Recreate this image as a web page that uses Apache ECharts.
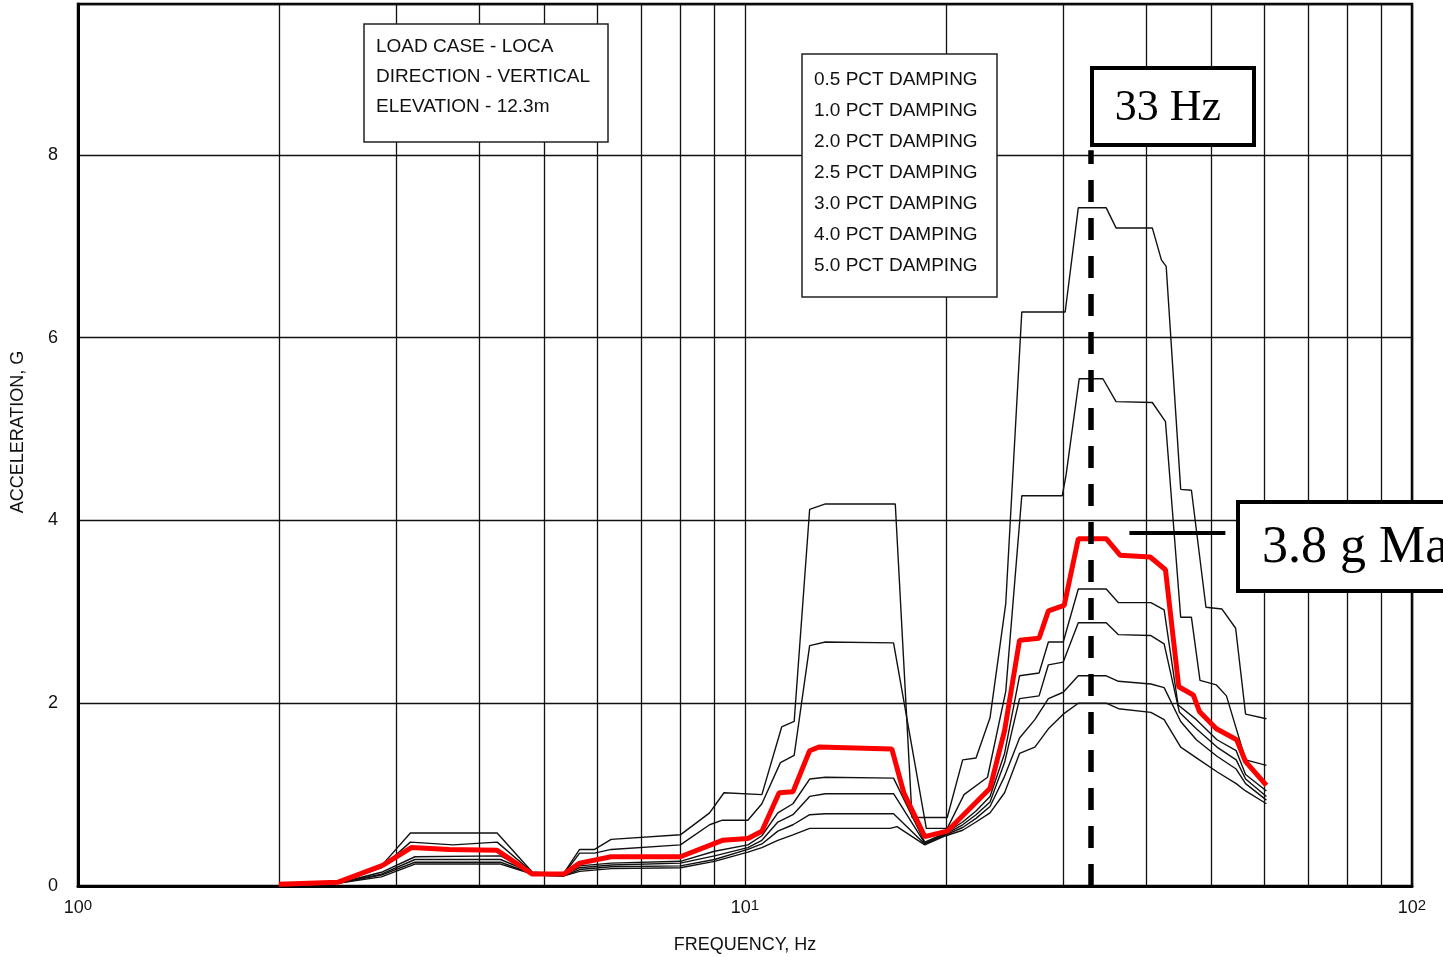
<!DOCTYPE html>
<html>
<head>
<meta charset="utf-8">
<title>Floor Response Spectra - LOCA Vertical</title>
<script src="https://cdn.jsdelivr.net/npm/echarts@6/dist/echarts.min.js"></script>
<style>
  html, body { margin: 0; padding: 0; background: #fff; }
  #chart { width: 1443px; height: 957px; }
</style>
</head>
<body>
<div id="chart"></div>
<script>
// Response spectra, [frequency Hz, acceleration g], one array per damping level
const damping05 = [[2.0,0.0],[2.45,0.03],[2.85,0.22],[3.15,0.58],[4.25,0.58],[4.8,0.15],[5.35,0.14],[5.65,0.40],[5.95,0.40],[6.3,0.51],[8.0,0.56],[8.85,0.80],[9.3,1.02],[10.6,1.0],[11.35,1.74],[11.85,1.80],[12.5,4.12],[13.2,4.18],[16.8,4.18],[17.8,0.75],[20.1,0.75],[21.2,1.38],[22.2,1.40],[23.3,1.84],[24.6,3.09],[26.0,6.28],[30.2,6.28],[31.6,7.42],[34.8,7.42],[36.0,7.2],[40.8,7.2],[42.1,6.85],[42.8,6.78],[45.0,4.34],[46.7,4.33],[49.1,3.05],[51.9,3.03],[54.4,2.82],[56.3,1.88],[60.5,1.83]];
const damping10 = [[2.0,0.0],[2.45,0.03],[2.85,0.2],[3.15,0.48],[3.65,0.45],[4.25,0.48],[4.8,0.15],[5.35,0.13],[5.65,0.36],[5.95,0.36],[6.3,0.40],[8.0,0.45],[8.85,0.67],[9.25,0.72],[10.1,0.72],[10.6,0.9],[11.3,1.35],[11.85,1.43],[12.5,2.63],[13.2,2.67],[16.7,2.66],[18.7,0.63],[20.1,0.63],[21.3,1.0],[23.1,1.19],[24.6,2.13],[26.0,4.27],[29.9,4.27],[30.3,4.5],[31.7,5.55],[34.4,5.55],[36.0,5.3],[40.8,5.29],[42.7,5.08],[45.0,2.94],[46.7,2.94],[48.1,2.25],[50.9,2.2],[52.7,2.08],[56.3,1.38],[60.5,1.32]];
const damping20 = [[2.0,0.02],[2.45,0.04],[2.87,0.23],[3.16,0.42],[3.6,0.40],[4.25,0.39],[4.8,0.13],[5.35,0.13],[5.65,0.25],[6.3,0.32],[8.0,0.32],[9.25,0.5],[10.1,0.52],[10.6,0.6],[11.25,1.02],[11.8,1.03],[12.5,1.48],[12.9,1.52],[16.6,1.5],[17.3,1.02],[18.6,0.54],[20.1,0.6],[23.3,1.07],[24.5,1.70],[25.8,2.69],[27.6,2.71],[28.5,3.01],[30.1,3.07],[31.6,3.8],[34.8,3.8],[36.5,3.62],[40.5,3.60],[42.7,3.46],[44.7,2.18],[47.0,2.09],[48.0,1.91],[50.9,1.72],[54.6,1.60],[56.3,1.36],[60.5,1.1]];
const damping25 = [[2.0,0.0],[2.45,0.03],[2.85,0.15],[3.2,0.32],[4.3,0.33],[4.85,0.13],[5.35,0.12],[5.65,0.22],[6.3,0.25],[8.0,0.27],[9.0,0.38],[10.1,0.45],[10.6,0.55],[11.2,0.8],[11.8,0.9],[12.5,1.17],[13.2,1.19],[16.7,1.18],[18.6,0.48],[20.0,0.58],[21.2,0.70],[22.2,0.82],[23.3,0.98],[24.5,1.45],[25.8,2.30],[27.6,2.33],[28.5,2.67],[30.0,2.67],[31.6,3.25],[34.8,3.25],[36.3,3.10],[40.6,3.10],[42.5,3.02],[44.6,1.98],[47.5,1.82],[51.0,1.60],[54.5,1.48],[56.3,1.22],[60.5,1.04]];
const damping30 = [[2.0,0.0],[2.45,0.03],[2.85,0.13],[3.2,0.29],[4.3,0.29],[4.85,0.13],[5.35,0.12],[5.65,0.2],[6.3,0.23],[8.0,0.25],[9.0,0.33],[10.1,0.42],[10.6,0.5],[11.2,0.7],[11.8,0.78],[12.5,0.98],[13.2,1.01],[16.7,1.01],[18.6,0.47],[20.0,0.57],[21.2,0.67],[22.2,0.78],[23.3,0.92],[24.5,1.35],[25.8,2.05],[27.6,2.08],[28.5,2.42],[30.0,2.45],[31.6,2.88],[34.8,2.88],[36.3,2.75],[40.6,2.74],[42.5,2.65],[44.8,1.90],[47.5,1.72],[51.0,1.52],[54.5,1.38],[56.3,1.17],[60.5,0.98]];
const damping40 = [[2.0,0.0],[2.45,0.03],[2.85,0.12],[3.2,0.26],[4.3,0.26],[4.85,0.12],[5.35,0.11],[5.65,0.18],[6.3,0.21],[8.0,0.22],[9.0,0.29],[10.1,0.40],[10.6,0.46],[11.2,0.6],[11.8,0.67],[12.5,0.78],[13.2,0.79],[16.7,0.79],[18.6,0.46],[20.0,0.56],[21.2,0.64],[22.2,0.74],[23.3,0.87],[24.5,1.2],[25.8,1.62],[27.2,1.82],[28.5,2.05],[30.0,2.12],[31.6,2.30],[34.8,2.30],[36.3,2.24],[40.6,2.21],[42.5,2.17],[45.0,1.80],[47.5,1.60],[51.0,1.42],[54.5,1.28],[56.3,1.12],[60.5,0.94]];
const damping50 = [[2.0,0.0],[2.45,0.03],[2.85,0.1],[3.2,0.24],[4.3,0.24],[4.85,0.12],[5.35,0.11],[5.65,0.16],[6.3,0.19],[8.0,0.2],[9.0,0.27],[10.1,0.37],[10.6,0.42],[11.2,0.5],[11.8,0.56],[12.5,0.63],[13.2,0.63],[16.5,0.63],[16.9,0.65],[18.6,0.45],[20.0,0.55],[21.2,0.61],[22.2,0.70],[23.3,0.80],[24.5,1.02],[25.8,1.45],[27.2,1.52],[28.5,1.72],[30.0,1.88],[31.6,2.0],[34.8,2.0],[36.3,1.94],[40.6,1.90],[42.5,1.82],[45.0,1.52],[48.0,1.38],[51.0,1.25],[54.5,1.12],[56.3,1.04],[60.5,0.90]];

// Legend text and header text
const dampingLabels = ['0.5 PCT DAMPING','1.0 PCT DAMPING','2.0 PCT DAMPING','2.5 PCT DAMPING','3.0 PCT DAMPING','4.0 PCT DAMPING','5.0 PCT DAMPING'];
const headerLines = ['LOAD CASE - LOCA','DIRECTION - VERTICAL','ELEVATION - 12.3m'];

// Axis settings
const xMin = 1, xMax = 100;
const yMin = 0, yMax = 9.65, yStep = 2;
const minorFreqLines = [2,3,4,5,6,7,8,9,20,30,40,50,60,70,80,90];

// Highlighted peak annotations
const peakFreq = 33;          // Hz, dashed marker
const peakFreqTop = 8.05;     // g, top end of the dashed marker
const peakValue = 3.8;        // g, stated maximum
const pointerFrom = 37.7, pointerTo = 52.5;  // Hz span of the pointer bar

const chart = echarts.init(document.getElementById('chart'), null, { renderer: 'canvas' });

const blackCurve = (name, data) => ({
  name, type: 'line', data, symbol: 'none', smooth: false, z: 3,
  lineStyle: { color: '#111', width: 1.4 }, silent: true
});

const series = [
  Object.assign(blackCurve('5.0 PCT DAMPING', damping50), {
    markLine: {
      silent: true, symbol: 'none', z: 1, animation: false,
      label: { show: false },
      lineStyle: { color: '#111', width: 1.3, type: 'solid' },
      data: minorFreqLines.map(f => ({ xAxis: f }))
    }
  }),
  blackCurve('4.0 PCT DAMPING', damping40),
  blackCurve('3.0 PCT DAMPING', damping30),
  blackCurve('2.5 PCT DAMPING', damping25),
  blackCurve('1.0 PCT DAMPING', damping10),
  blackCurve('0.5 PCT DAMPING', damping05),
  {
    name: '2.0 PCT DAMPING', type: 'line', data: damping20, symbol: 'none', z: 4, silent: true,
    lineStyle: { color: '#ff0000', width: 5 },
    markLine: {
      silent: true, symbol: 'none', z: 8, animation: false,
      label: { show: false },
      data: [
        [
          { coord: [peakFreq, yMin], lineStyle: { color: '#000', width: 5.5, type: [22, 16] } },
          { coord: [peakFreq, peakFreqTop] }
        ],
        [
          { coord: [pointerFrom, peakValue + 0.06], lineStyle: { color: '#000', width: 4, type: 'solid' } },
          { coord: [pointerTo, peakValue + 0.06] }
        ]
      ]
    }
  }
];

const labelFont = 'Liberation Sans, Arial, Helvetica, sans-serif';
const serifFont = 'Liberation Serif, Times New Roman, serif';

const graphic = [];
// header box
graphic.push({ type: 'rect', shape: { x: 364, y: 24, width: 244, height: 118 },
  style: { fill: '#fff', stroke: '#222', lineWidth: 1.5 }, z: 20 });
headerLines.forEach((t, i) => graphic.push({
  type: 'text', x: 376, y: 47 + i * 30, z: 21,
  style: { text: t, fill: '#111', font: '19px ' + labelFont, textVerticalAlign: 'middle' }
}));
// damping legend box
graphic.push({ type: 'rect', shape: { x: 802, y: 54, width: 195, height: 243 },
  style: { fill: '#fff', stroke: '#222', lineWidth: 1.5 }, z: 20 });
dampingLabels.forEach((t, i) => graphic.push({
  type: 'text', x: 814, y: 80 + i * 31, z: 21,
  style: { text: t, fill: '#111', font: '19px ' + labelFont, textVerticalAlign: 'middle' }
}));
// frequency callout
graphic.push({ type: 'rect', shape: { x: 1092, y: 68, width: 162, height: 77 },
  style: { fill: '#fff', stroke: '#000', lineWidth: 4 }, z: 20 });
graphic.push({ type: 'text', x: 1168, y: 108, z: 21,
  style: { text: peakFreq + ' Hz', fill: '#000', font: '44px ' + serifFont,
           textAlign: 'center', textVerticalAlign: 'middle' } });
// maximum callout
graphic.push({ type: 'rect', shape: { x: 1238, y: 502, width: 260, height: 89 },
  style: { fill: '#fff', stroke: '#000', lineWidth: 4 }, z: 20 });
graphic.push({ type: 'text', x: 1262, y: 548, z: 21,
  style: { text: peakValue + ' g Max', fill: '#000', font: '52px ' + serifFont,
           textVerticalAlign: 'middle' } });

const option = {
  animation: false,
  backgroundColor: '#fff',
  grid: {
    left: 78, right: 31, top: 4, bottom: 71,
    outerBoundsMode: 'none', containLabel: false,
    show: true, borderColor: '#000', borderWidth: 2.5, backgroundColor: 'transparent'
  },
  xAxis: {
    type: 'log', logBase: 10, min: xMin, max: xMax,
    name: 'FREQUENCY, Hz', nameLocation: 'middle', nameGap: 50,
    nameTextStyle: { fontFamily: labelFont, fontSize: 18, color: '#111' },
    axisLine: { show: true, lineStyle: { color: '#000', width: 3 } },
    axisTick: { show: false },
    splitLine: { show: true, lineStyle: { color: '#111', width: 1.3 } },
    minorTick: { show: false }, minorSplitLine: { show: false },
    axisLabel: {
      margin: 12, color: '#111',
      formatter: v => '10{s|' + Math.round(Math.log10(v)) + '}',
      fontFamily: labelFont, fontSize: 18, lineHeight: 20,
      rich: { s: { fontFamily: labelFont, fontSize: 15, verticalAlign: 'top', lineHeight: 20, padding: [0, 0, 4, 0] } },
      showMinLabel: true, showMaxLabel: true
    }
  },
  yAxis: {
    type: 'value', min: yMin, max: yMax, interval: yStep,
    name: 'ACCELERATION, G', nameLocation: 'middle', nameGap: 51,
    nameTextStyle: { fontFamily: labelFont, fontSize: 18, color: '#111', padding: [0, 0, 0, 26] },
    axisLine: { show: true, lineStyle: { color: '#000', width: 3 } },
    axisTick: { show: false },
    splitLine: { show: true, lineStyle: { color: '#111', width: 1.3 } },
    axisLabel: {
      margin: 20, color: '#111', fontFamily: labelFont, fontSize: 18,
      formatter: v => (Math.abs(v % yStep) < 1e-9 && v <= 8) ? String(v) : '',
      showMaxLabel: false
    }
  },
  series,
  graphic
};

chart.setOption(option);
</script>
</body>
</html>
